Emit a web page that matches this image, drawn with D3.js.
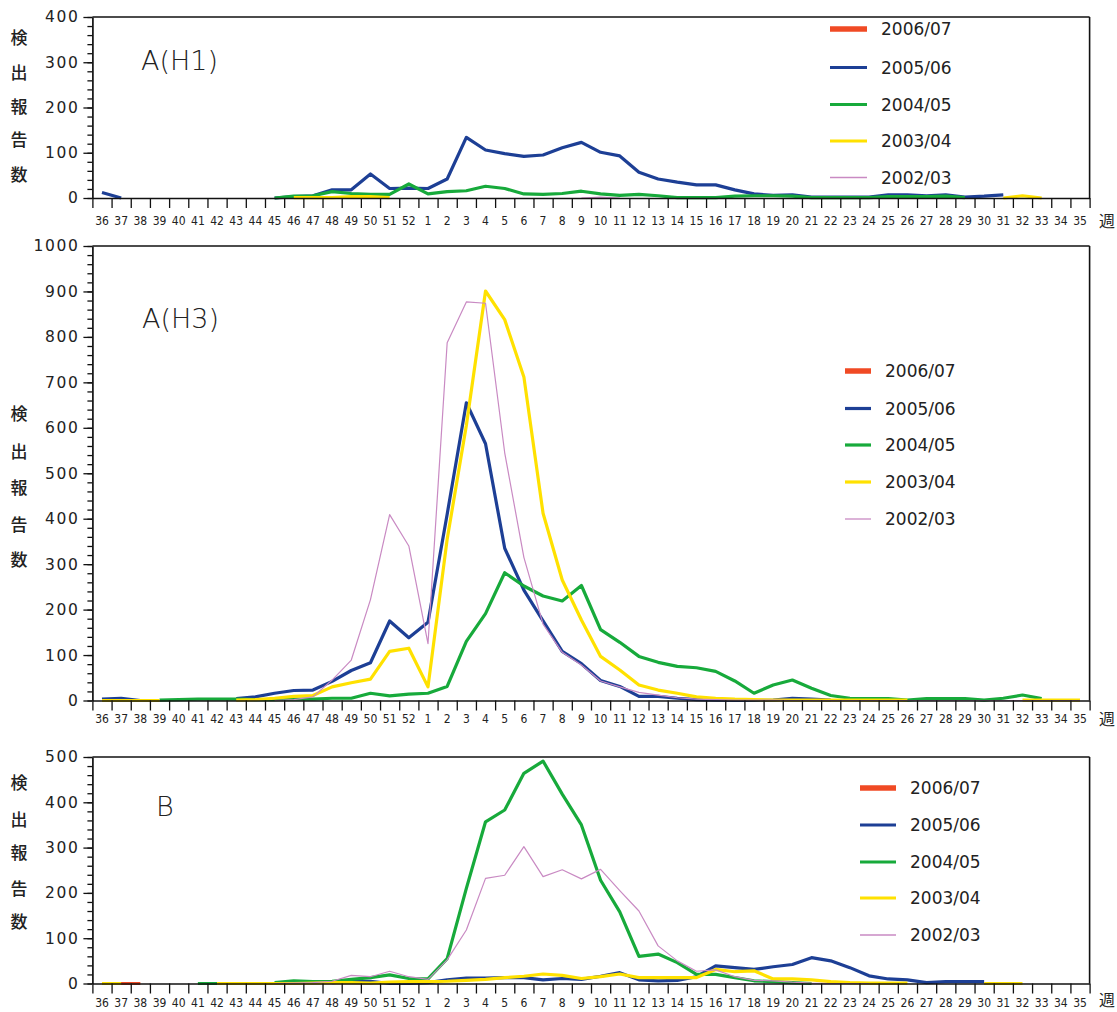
<!DOCTYPE html>
<html><head><meta charset="utf-8">
<script src="https://cdn.jsdelivr.net/npm/d3@7"></script>
<style>
html,body{margin:0;padding:0;background:#fff;}
svg{display:block;}
</style></head><body>
<svg id="chart" width="1117" height="1012"></svg>
<script>
const _ = null;
const weeks = ["36","37","38","39","40","41","42","43","44","45","46","47","48","49","50","51","52",
  "1","2","3","4","5","6","7","8","9","10","11","12","13","14","15","16","17","18","19","20",
  "21","22","23","24","25","26","27","28","29","30","31","32","33","34","35"];
const seasons = ["2006/07","2005/06","2004/05","2003/04","2002/03"];
const yLabelChars = ["検","出","報","告","数"];
const weekUnit = "週";
const panelTitles = ["A(H1)","A(H3)","B"];
const yMax = [400, 1000, 500];
const yMajorH1 = [0,100,200,300,400];
const yMajorH3 = [0,100,200,300,400,500,600,700,800,900,1000];
const yMajorB = [0,100,200,300,400,500];

// ---- A(H1) ----  order: 36..44 | 45..52 | 1..9 | 10..18 | 19..27 | 28..35
const h1_0607 = [_,_,_,_,_,_,_,_,_, _,_,_,_,_,_,_,_, _,_,_,_,_,_,_,_,_, _,_,_,_,_,_,_,_,_, _,_,_,_,_,_,_,_,_, _,_,_,_,_,_,_,_];
const h1_0506 = [12,0,_,_,_,_,_,_,_, 0,3,5,18,18,53,21,22, 21,42,134,106,98,92,95,111,123, 101,93,57,42,35,29,29,18,9, 6,7,2,2,2,2,7,7,5, 7,2,4,7,_,_,_,_];
const h1_0405 = [_,_,_,_,_,_,_,_,_, 0,4,5,14,10,8,8,31, 9,14,16,26,21,9,8,10,15, 9,6,8,5,1,1,1,4,5, 5,4,1,1,1,1,3,3,3, 4,1,_,_,_,_,_,_];
const h1_0304 = [_,_,_,_,_,_,_,_,_, _,1,1,1,3,3,1,_, _,_,_,_,_,_,_,_,_, _,_,_,_,_,_,_,_,_, _,_,_,_,_,_,_,_,_, _,_,_,0,5,0,_,_];
const h1_0203 = [_,_,_,_,_,_,_,_,_, _,_,_,_,_,_,_,_, _,_,_,_,_,_,_,_,0, 2,0,_,_,_,_,_,_,_, _,_,_,_,_,_,_,_,_, _,_,_,_,_,_,_,_];

// ---- A(H3) ----
const h3_0607 = [_,_,_,_,_,_,_,_,_, _,_,_,_,_,_,_,_, _,_,_,_,_,_,_,_,_, _,_,_,_,_,_,_,_,_, _,_,_,_,_,_,_,_,_, _,_,_,_,_,_,_,_];
const h3_0506 = [3,5,0,_,_,_,_,4,8, 16,22,23,42,66,83,175,138, 172,410,655,565,335,243,175,108,81, 44,31,9,9,5,2,1,0,0, 1,5,3,1,_,_,_,_,_, _,_,_,_,_,_,_,_];
const h3_0405 = [_,_,_,1,2,3,3,3,2, 2,3,3,5,5,16,10,14, 16,31,130,191,281,252,230,219,253, 156,128,97,84,75,72,64,43,16, 34,45,27,11,5,4,4,1,4, 4,4,1,5,12,4,_,_];
const h3_0304 = [0,0,0,0,_,_,_,1,2, 5,9,11,30,39,47,108,115, 30,355,605,901,838,712,412,265,177, 97,67,34,23,16,8,5,3,2, 1,1,1,1,1,1,1,1,_, _,_,_,_,1,1,1,1];
const h3_0203 = [_,_,_,_,_,_,_,_,_, 0,2,8,45,89,222,409,340, 125,787,877,874,545,315,168,106,78, 43,30,18,12,6,3,2,1,1, 1,0,0,0,0,0,0,0,0, 0,0,0,0,0,0,0,0];

// ---- B ----
const b_0607 = [0,0,0,_,_,_,_,_,_, _,_,_,_,_,_,_,_, _,_,_,_,_,_,_,_,_, _,_,_,_,_,_,_,_,_, _,_,_,_,_,_,_,_,_, _,_,_,_,_,_,_,_];
const b_0506 = [_,_,_,_,_,_,_,_,_, _,_,_,2,4,5,0,0, 2,8,12,12,13,13,8,11,9, 16,24,8,6,7,15,39,35,31, 37,42,57,50,35,17,10,8,2, 4,4,4,_,_,_,_,_];
const b_0405 = [_,_,_,_,_,0,0,_,_, 2,6,4,5,9,13,19,11, 10,55,210,357,383,464,491,418,350, 228,158,60,65,46,20,20,13,6, 4,2,0,_,_,_,_,_,_, _,_,_,_,_,_,_,_];
const b_0304 = [0,0,_,_,_,_,0,0,0, 0,0,1,2,2,1,3,4, 4,5,7,9,13,16,21,18,11, 15,21,13,13,13,13,31,26,28, 10,10,8,4,2,1,1,1,_, _,_,0,0,0,_,_,_];
const b_0203 = [_,_,_,_,_,_,_,_,_, 0,1,2,5,18,15,27,15, 9,52,118,232,239,302,236,251,231, 252,205,160,83,50,27,30,15,7, 6,3,1,0,0,0,_,_,_, _,_,_,_,_,_,_,_];

// ---- styles ----
const seasonColors = ["#f04a24","#1d3f95","#17aa3b","#ffe100","#c98ac3"];
const seasonWidths = [3.2,3.2,3.2,3.2,1.2];
const legendWidths = [5.5,3.2,3.2,3.2,1.3];
const fontTick = "'DejaVu Sans', sans-serif";
const fontX = "'DejaVu Sans Condensed','Liberation Sans Narrow','DejaVu Sans', sans-serif";
const fontCJK = "'Noto Sans CJK JP','Noto Sans CJK SC', sans-serif";

const panels = [
  {series:[h1_0607,h1_0506,h1_0405,h1_0304,h1_0203], max:yMax[0], major:yMajorH1, title:panelTitles[0],
   top:17, bottom:198, titleX:141, titleY:60, leg:{x0:830,x1:867,tx:881,ys:[29,67.5,104.5,141,177.5]},
   ychars:[38,73,107,140,175], labelY:221, unitY:221},
  {series:[h3_0607,h3_0506,h3_0405,h3_0304,h3_0203], max:yMax[1], major:yMajorH3, title:panelTitles[1],
   top:246, bottom:700.5, titleX:142, titleY:318, leg:{x0:845,x1:871,tx:885,ys:[371,408.5,445,482,519]},
   ychars:[414,452,488,525,560], labelY:719, unitY:719},
  {series:[b_0607,b_0506,b_0405,b_0304,b_0203], max:yMax[2], major:yMajorB, title:panelTitles[2],
   top:757, bottom:983.5, titleX:156, titleY:806, leg:{x0:860,x1:896,tx:910,ys:[788,825,862,898,935]},
   ychars:[783,820,853,889,922], labelY:1003, unitY:1000}
];

const svg = d3.select("#chart");
const X0 = 92.4, X1 = 1089.6;
const x = d3.scaleBand().domain(weeks).range([X0, X1]).padding(0);
const xIdx = d3.scaleLinear().domain([0, weeks.length]).range([X0, X1]);
const xc = w => x(w) + x.bandwidth()/2;

panels.forEach(p => {
  const y = d3.scaleLinear().domain([0, p.max]).range([p.bottom, p.top]);
  const g = svg.append("g");

  // series lines
  p.series.forEach((vals, si) => {
    const pts = weeks.map((w, i) => ({w, v: vals[i]}));
    const line = d3.line().defined(d => d.v !== null).x(d => xc(d.w)).y(d => y(d.v));
    g.append("path").attr("d", line(pts)).attr("fill","none")
      .attr("stroke", seasonColors[si]).attr("stroke-width", seasonWidths[si])
      .attr("stroke-linejoin","round");
  });

  // frame (top & right)
  g.append("line").attr("x1",X0).attr("x2",X1).attr("y1",p.top).attr("y2",p.top)
    .attr("stroke","#111").attr("stroke-width",1.6);
  g.append("line").attr("x1",X1).attr("x2",X1).attr("y1",p.top).attr("y2",p.bottom)
    .attr("stroke","#111").attr("stroke-width",1.6);

  // y minor ticks
  const yMinor = g.append("g").attr("transform",`translate(${X0},0)`)
    .call(d3.axisLeft(y).tickValues(d3.range(0, p.max + 1, 20)).tickSize(5).tickSizeOuter(0).tickFormat(""));
  yMinor.select(".domain").remove();
  yMinor.selectAll("line").attr("stroke","#111").attr("stroke-width",1.3);
  // y major ticks + labels
  const yAx = g.append("g").attr("transform",`translate(${X0},0)`)
    .call(d3.axisLeft(y).tickValues(p.major).tickSize(9).tickSizeOuter(0).tickPadding(4).tickFormat(d3.format("d")));
  yAx.select(".domain").attr("stroke","#111").attr("stroke-width",1.7);
  yAx.selectAll("line").attr("stroke","#111").attr("stroke-width",1.3);
  yAx.selectAll("text").attr("font-family",fontTick).attr("font-size",15.5)
    .attr("letter-spacing","1.6px").attr("fill","#222");

  // x ticks at band boundaries
  const xT = g.append("g").attr("transform",`translate(0,${p.bottom})`)
    .call(d3.axisBottom(xIdx).tickValues(d3.range(0, weeks.length + 1)).tickSize(10).tickSizeOuter(0).tickFormat(""));
  xT.select(".domain").attr("stroke","#111").attr("stroke-width",1.7);
  xT.selectAll("line").attr("stroke","#111").attr("stroke-width",1.3);
  // x labels at band centres
  const xL = g.append("g").attr("transform",`translate(0,${p.bottom})`)
    .call(d3.axisBottom(x).tickSize(0).tickPadding(p.labelY - p.bottom - 4.5));
  xL.select(".domain").remove();
  xL.selectAll("text").attr("font-family",fontX).attr("font-size",12).attr("fill","#222");

  // 週
  g.append("text").attr("x",1099).attr("y",p.unitY).attr("dy","0.35em")
    .attr("font-family",fontCJK).attr("font-size",16).attr("fill","#222").text(weekUnit);

  // y label chars
  yLabelChars.forEach((c, i) => {
    g.append("text").attr("x",19).attr("y",p.ychars[i]).attr("dy","0.35em").attr("text-anchor","middle")
      .attr("font-family",fontCJK).attr("font-size",17).attr("font-weight",500).attr("fill","#222").text(c);
  });

  // title
  g.append("text").attr("x",p.titleX).attr("y",p.titleY).attr("dy","0.36em")
    .attr("font-family",fontTick).attr("font-weight",200).attr("font-size",27).attr("fill","#222")
    .text(p.title);

  // legend
  seasons.forEach((s, i) => {
    const ly = p.leg.ys[i];
    g.append("line").attr("x1",p.leg.x0).attr("x2",p.leg.x1).attr("y1",ly).attr("y2",ly)
      .attr("stroke",seasonColors[i]).attr("stroke-width",legendWidths[i]);
    g.append("text").attr("x",p.leg.tx).attr("y",ly).attr("dy","0.36em")
      .attr("font-family",fontTick).attr("font-size",17).attr("fill","#222").text(s);
  });
});
</script>
</body></html>
